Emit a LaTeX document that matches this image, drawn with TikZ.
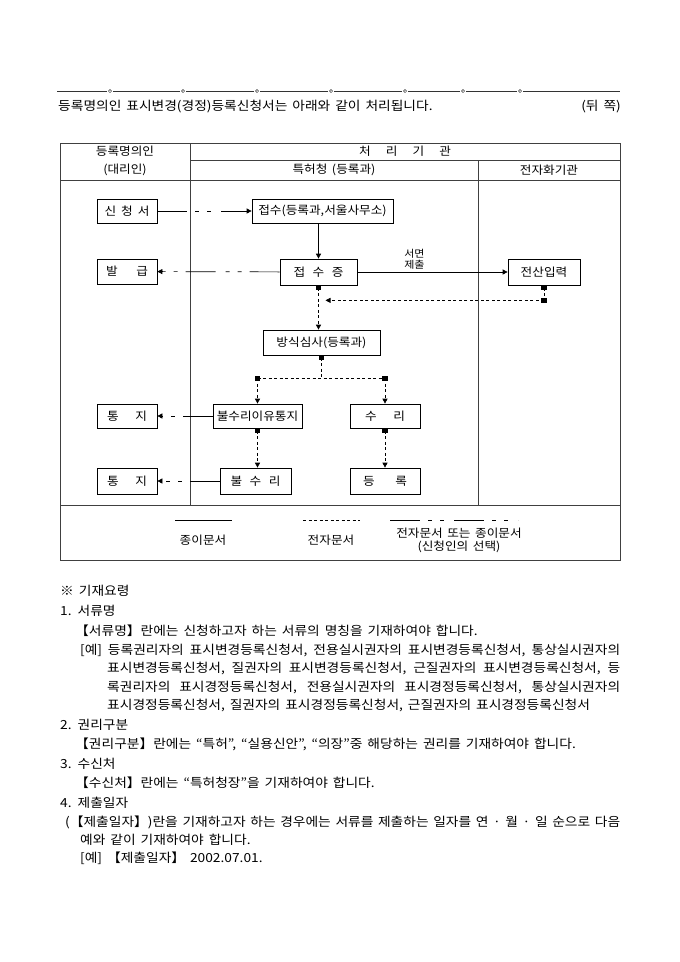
\documentclass[tikz,border=0pt]{standalone}
\usepackage{fontspec}
\setmainfont[WordSpace=1.6,FakeStretch=1.1]{Noto Sans CJK KR}
\usepackage{tikz}
\usetikzlibrary{arrows.meta,positioning,calc}
\newcommand{\sqmark}[1]{\fill (#1) ++(-2.6,-2.6) rectangle ++(5.2,5.2);}
\newcommand{\spread}[2]{\makebox[#1][s]{#2}}

\begin{document}
\begin{tikzpicture}[x=1pt,y=-1pt,font=\fontsize{11.5}{13}\selectfont,
  flowbox/.style={draw,line width=0.7pt,minimum height=24pt,inner sep=1pt},
  rule/.style={black!75,line width=0.8pt},
  paperline/.style={line width=0.7pt},
  eline/.style={line width=0.7pt,dash pattern=on 3pt off 2.5pt},
  eitherline/.style={line width=0.7pt,dash pattern=on 30pt off 8pt on 4pt off 8pt on 4pt off 10pt},
  toarrow/.style={-{Triangle[length=5pt,width=5pt]}},
  body/.style={anchor=west,inner sep=0pt,font=\fontsize{12.5}{14}\selectfont}]
\useasboundingbox (0,0) rectangle (680,962);
\foreach \a/\b in {57/107,113/180,186/254,260/328,334/402,408/460,466/517,523/620}
  \draw[black!80,line width=0.7pt] (\a,91) -- (\b,91);
\foreach \c in {110,183,257,331,405,463,520}
  \draw[black!80,line width=0.5pt] (\c,91) circle (1.6pt);
\node[body] (title) at (58,107) {등록명의인 표시변경(경정)등록신청서는 아래와 같이 처리됩니다.};
\node[body,anchor=east] (side) at (621,107) {(뒤 쪽)};

\draw[rule] (60,143) rectangle (620,560);
\draw[rule] (190,143) -- (190,505);
\draw[rule] (190,160) -- (620,160);
\draw[rule] (60,180) -- (620,180);
\draw[rule] (478,160) -- (478,505);
\draw[rule] (60,505) -- (620,505);
\node (owner) at (125,151.5) {등록명의인};
\node (agent) at (125,170) {(대리인)};
\node (agency) at (405,151.5) {\spread{92pt}{처 리 기 관}};
\node (kipo) at (334,170) {특허청 (등록과)};
\node (scan) at (549,170) {전자화기관};

\node[flowbox,minimum width=60pt] (apply) at (127,211) {\spread{45pt}{신 청 서}};
\node[flowbox,minimum width=141pt] (receipt) at (322.5,211) {접수(등록과,서울사무소)};
\node[flowbox,minimum width=60pt,minimum height=25pt] (issue) at (127,271.5) {\spread{42pt}{발 급}};
\node[flowbox,minimum width=77pt,minimum height=26pt] (slip) at (318.5,272) {\spread{50pt}{접 수 증}};
\node[flowbox,minimum width=72pt,minimum height=26pt] (input) at (544,272) {전산입력};
\node[flowbox,minimum width=117pt,minimum height=25pt] (check) at (321.5,342.5) {방식심사(등록과)};
\node[flowbox,minimum width=89pt] (reject) at (257.5,416) {불수리이유통지};
\node[flowbox,minimum width=70pt] (accept) at (385,416) {\spread{40pt}{수 리}};
\node[flowbox,minimum width=60pt] (notice) at (127,416) {\spread{40pt}{통 지}};
\node[flowbox,minimum width=60pt,minimum height=26pt] (notice2) at (127,481) {\spread{40pt}{통 지}};
\node[flowbox,minimum width=71pt,minimum height=26pt] (refuse) at (255.5,481) {\spread{50pt}{불 수 리}};
\node[flowbox,minimum width=70pt,minimum height=26pt] (register) at (385,481) {\spread{44pt}{등 록}};

\draw[eitherline,toarrow] (apply) -- (receipt);
\draw[paperline,toarrow] (slip.north |- receipt.south) -- (slip.north);
\draw[eitherline,toarrow] (slip) -- (issue);
\draw[paperline,toarrow] (slip) -- node[pos=0.38,above=1pt,inner sep=1pt,align=center,font=\fontsize{10}{11.5}\selectfont] (written) {서면\\제출} (input);

\coordinate (slipout) at ([yshift=-2.5pt]slip.south);
\draw[eline,toarrow] (slipout) -- (slipout |- check.north);
\coordinate (inputout) at ([yshift=-2.5pt]input.south);
\coordinate (inputturn) at ([yshift=-15pt]input.south);
\coordinate (backend) at ([xshift=7pt]slipout |- inputturn);
\draw[eline] (inputout) -- (inputturn);
\draw[eline,toarrow] (inputturn) -- (backend);
\sqmark{slipout}
\sqmark{inputout}
\sqmark{inputturn}

\coordinate (checkout) at ([yshift=-2.5pt]check.south);
\coordinate (split) at ([yshift=-23pt]check.south);
\coordinate (splitl) at (reject.north |- split);
\coordinate (splitr) at (accept.north |- split);
\draw[eline] (checkout) -- (split);
\draw[eline] (splitl) -- (splitr);
\draw[eline,toarrow] (splitl) -- (reject.north);
\draw[eline,toarrow] (splitr) -- (accept.north);
\sqmark{checkout}
\sqmark{splitl}
\sqmark{splitr}

\draw[eitherline,toarrow] (reject) -- (notice);
\coordinate (rejectout) at ([yshift=-2.5pt]reject.south);
\draw[eline,toarrow] (rejectout) -- (rejectout |- refuse.north);
\coordinate (acceptout) at ([yshift=-2.5pt]accept.south);
\draw[eline,toarrow] (acceptout) -- (register.north);
\sqmark{rejectout}
\sqmark{acceptout}
\draw[eitherline,toarrow] (refuse) -- (notice2);

\draw[paperline] (175,520) -- (232,520);
\node (paperkey) at (203,540) {종이문서};
\draw[eline] (303,520) -- (360,520);
\node (ekey) at (331,540) {전자문서};
\draw[eitherline] (390,520) -- (518,520);
\node[align=center] (eitherkey) at (459,540.5) {전자문서 또는 종이문서\\(신청인의 선택)};

\node[body] (guide) at (60,591) {※ 기재요령};
\node[body] (item1) at (60,611) {1. 서류명};
\node[body] (item1a) at (75,631) {【서류명】란에는 신청하고자 하는 서류의 명칭을 기재하여야 합니다.};
\node[body] (item1b) at (80,650) {\spread{540pt}{[예] 등록권리자의 표시변경등록신청서, 전용실시권자의 표시변경등록신청서, 통상실시권자의}};
\node[body] (item1c) at (107,668.5) {\spread{513pt}{표시변경등록신청서, 질권자의 표시변경등록신청서, 근질권자의 표시변경등록신청서, 등}};
\node[body] (item1d) at (107,687) {\spread{513pt}{록권리자의 표시경정등록신청서, 전용실시권자의 표시경정등록신청서, 통상실시권자의}};
\node[body] (item1e) at (107,705.5) {표시경정등록신청서, 질권자의 표시경정등록신청서, 근질권자의 표시경정등록신청서};
\node[body] (item2) at (60,725) {2. 권리구분};
\node[body] (item2a) at (75,744) {【권리구분】란에는 “특허”, “실용신안”, “의장”중 해당하는 권리를 기재하여야 합니다.};
\node[body] (item3) at (60,764) {3. 수신처};
\node[body] (item3a) at (75,783) {【수신처】란에는 “특허청장”을 기재하여야 합니다.};
\node[body] (item4) at (60,803) {4. 제출일자};
\node[body] (item4a) at (65,822) {\spread{555pt}{(【제출일자】)란을 기재하고자 하는 경우에는 서류를 제출하는 일자를 연 · 월 · 일 순으로 다음}};
\node[body] (item4b) at (80,840) {예와 같이 기재하여야 합니다.};
\node[body] (item4c) at (80,858) {[예] 【제출일자】 2002.07.01.};
\end{tikzpicture}
\end{document}
